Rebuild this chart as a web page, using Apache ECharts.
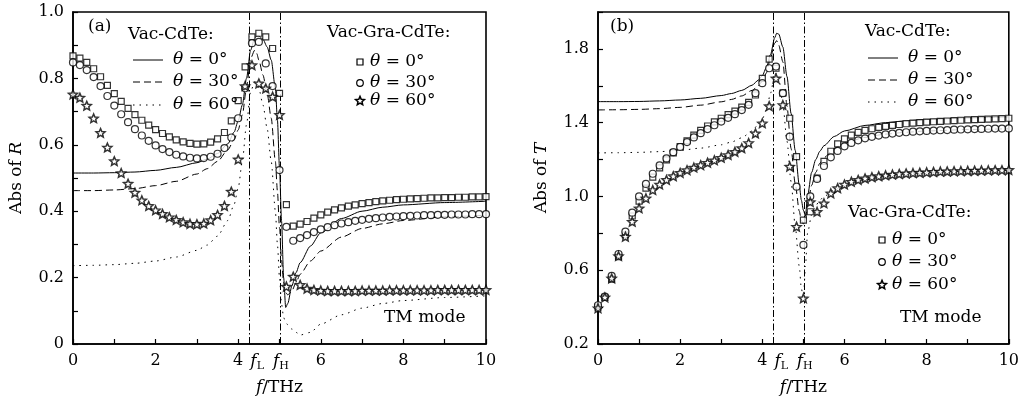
<!DOCTYPE html>
<html><head><meta charset="utf-8">
<script src="https://cdn.jsdelivr.net/npm/echarts@6/dist/echarts.min.js"></script>
<style>html,body{margin:0;padding:0;background:#fff}#c{width:1022px;height:403px}</style>
</head><body><div id="c"></div>
<script>
const FONT = 'DejaVu Serif';
const fL = 4.27, fH = 5.01;

// tick labels
const xLabels = ['0','2','4','6','8','10'];
const yLabelsA = ['0','0.2','0.4','0.6','0.8','1.0'];
const yLabelsB = ['0.2','0.6','1.0','1.4','1.8'];

// frequencies of the Vac-Gra-CdTe markers (THz)
const markerF = [0,0.167,0.333,0.5,0.667,0.833,1,1.167,1.333,1.5,
 1.667,1.833,2,2.167,2.333,2.5,2.667,2.833,3,3.167,
 3.333,3.5,3.667,3.833,4,4.167,4.333,4.5,4.667,4.833,
 5,5.167,5.333,5.5,5.667,5.833,6,6.167,6.333,6.5,
 6.667,6.833,7,7.167,7.333,7.5,7.667,7.833,8,8.167,
 8.333,8.5,8.667,8.833,9,9.167,9.333,9.5,9.667,9.833,
 10];

// (a) |R|, Vac-Gra-CdTe markers
const rSq0 = [0.868,0.861,0.848,0.829,0.805,0.779,0.754,0.731,0.710,0.691,
 0.674,0.659,0.646,0.634,0.624,0.615,0.609,0.604,0.602,0.603,
 0.608,0.618,0.637,0.672,0.733,0.835,0.925,0.936,0.925,0.890,
 0.755,0.420,0.355,0.361,0.369,0.379,0.389,0.397,0.404,0.410,
 0.415,0.419,0.423,0.426,0.429,0.431,0.433,0.435,0.436,0.437,
 0.438,0.439,0.440,0.440,0.441,0.441,0.442,0.442,0.443,0.443,
 0.444];
const rCi30 = [0.848,0.840,0.825,0.804,0.777,0.747,0.718,0.692,0.668,0.647,
 0.628,0.612,0.598,0.587,0.578,0.570,0.565,0.561,0.559,0.560,
 0.564,0.573,0.590,0.622,0.680,0.770,0.906,0.910,0.845,0.777,
 0.524,0.353,0.311,0.319,0.328,0.337,0.345,0.352,0.358,0.363,
 0.367,0.371,0.374,0.377,0.379,0.381,0.383,0.384,0.385,0.386,
 0.387,0.388,0.388,0.389,0.389,0.390,0.390,0.390,0.391,0.391,
 0.391];
const rSt60 = [0.752,0.742,0.718,0.680,0.636,0.592,0.551,0.515,0.483,0.456,
 0.433,0.416,0.403,0.392,0.382,0.374,0.367,0.362,0.361,0.363,
 0.373,0.389,0.416,0.459,0.556,0.777,0.840,0.785,0.770,0.745,
 0.690,0.173,0.203,0.178,0.167,0.163,0.161,0.160,0.160,0.160,
 0.160,0.160,0.161,0.161,0.161,0.161,0.162,0.162,0.162,0.162,
 0.162,0.162,0.162,0.163,0.163,0.163,0.163,0.163,0.163,0.163,
 0.163];

// (a) |R|, Vac-CdTe lines
const lineFA = [0,0.5,1,1.5,2,2.5,3, 3.25,3.5,3.75,3.9, 4.0,4.1,4.2,4.3,4.4,4.45,4.5, 4.6,4.7,4.8,4.9,4.95, 5.0,5.05,5.1,5.15,5.2, 5.3,5.4,5.5,5.75, 6,6.5,7,7.5,8,9,10];
const rLine0 = [0.515,0.515,0.516,0.518,0.523,0.532,0.546, 0.557,0.574,0.603,0.638, 0.672,0.72,0.80,0.885,0.922,0.928,0.928, 0.918,0.895,0.855,0.77,0.675, 0.53,0.37,0.20,0.11,0.122, 0.175,0.215,0.245,0.295, 0.335,0.378,0.400,0.412,0.419,0.426,0.430];
const rLine30 = [0.462,0.462,0.464,0.468,0.477,0.490,0.512, 0.528,0.550,0.585,0.615, 0.645,0.69,0.77,0.86,0.885,0.875,0.855, 0.81,0.755,0.68,0.55,0.46, 0.35,0.25,0.185,0.155,0.148, 0.16,0.185,0.21,0.25, 0.28,0.322,0.348,0.362,0.372,0.383,0.388];
const rLine60 = [0.236,0.237,0.239,0.243,0.250,0.262,0.282, 0.298,0.325,0.372,0.42, 0.47,0.55,0.66,0.76,0.79,0.785,0.77, 0.72,0.65,0.55,0.40,0.30, 0.20,0.12,0.08,0.065,0.058, 0.045,0.035,0.027,0.035, 0.06,0.088,0.108,0.122,0.131,0.14,0.145];

// (b) |T|, Vac-Gra-CdTe markers
const tSq0 = [0.400,0.453,0.552,0.673,0.791,0.894,0.975,1.045,1.105,1.155,
 1.198,1.236,1.270,1.302,1.332,1.358,1.382,1.404,1.424,1.444,
 1.463,1.484,1.510,1.550,1.640,1.744,1.695,1.560,1.424,1.216,
 0.872,0.917,1.100,1.190,1.245,1.285,1.312,1.332,1.347,1.358,
 1.367,1.374,1.380,1.385,1.390,1.394,1.397,1.400,1.403,1.405,
 1.407,1.409,1.411,1.413,1.415,1.416,1.418,1.419,1.421,1.422,
 1.424];
const tCi30 = [0.410,0.457,0.569,0.688,0.809,0.912,1.000,1.068,1.123,1.168,
 1.206,1.240,1.268,1.295,1.320,1.343,1.365,1.386,1.406,1.426,
 1.446,1.468,1.497,1.560,1.614,1.695,1.704,1.560,1.324,1.053,
 0.737,1.000,1.095,1.165,1.212,1.247,1.272,1.290,1.304,1.315,
 1.323,1.330,1.336,1.341,1.345,1.348,1.351,1.353,1.355,1.357,
 1.359,1.360,1.362,1.363,1.364,1.365,1.366,1.367,1.368,1.368,
 1.369];
const tSt60 = [0.394,0.453,0.556,0.677,0.782,0.863,0.936,0.990,1.035,1.065,
 1.090,1.110,1.128,1.143,1.157,1.170,1.183,1.196,1.210,1.225,
 1.242,1.262,1.290,1.342,1.397,1.490,1.640,1.496,1.162,0.836,
 0.448,0.970,0.917,0.963,1.017,1.045,1.065,1.080,1.090,1.098,
 1.105,1.110,1.115,1.119,1.122,1.125,1.127,1.129,1.131,1.133,
 1.135,1.136,1.137,1.138,1.139,1.140,1.141,1.142,1.143,1.143,
 1.144];

// (b) |T|, Vac-CdTe lines
const lineFB = [0,0.5,1,1.5,2,2.5,3, 3.25,3.5,3.75,3.9, 4.0,4.1,4.2,4.3,4.35,4.4,4.5, 4.6,4.7,4.8,4.9,4.95, 5.0,5.05,5.1,5.2,5.3, 5.4,5.5,5.75,6, 6.5,7,7.5,8,9,10];
const tLine0 = [1.514,1.514,1.515,1.518,1.523,1.532,1.547, 1.558,1.575,1.603,1.63, 1.655,1.70,1.77,1.86,1.885,1.88,1.81, 1.65,1.45,1.25,1.06,0.98, 0.925,0.895,1.0,1.13,1.2, 1.245,1.275,1.325,1.355, 1.385,1.400,1.410,1.417,1.426,1.432];
const tLine30 = [1.469,1.470,1.472,1.476,1.483,1.495,1.513, 1.526,1.545,1.575,1.60, 1.625,1.67,1.75,1.83,1.845,1.82,1.73, 1.49,1.26,1.07,0.92,0.87, 0.85,0.87,0.95,1.06,1.13, 1.18,1.21,1.26,1.29, 1.32,1.338,1.348,1.355,1.363,1.367];
const tLine60 = [1.236,1.237,1.239,1.243,1.250,1.262,1.280, 1.295,1.318,1.355,1.39, 1.42,1.47,1.56,1.66,1.67,1.64,1.50, 1.30,1.08,0.84,0.62,0.50, 0.45,0.62,0.80,0.90,0.95, 0.98,1.00,1.035,1.06, 1.09,1.108,1.12,1.128,1.138,1.143];

const STAR = 'path://M50,2 L62.9,32.2 L95.6,35.2 L70.9,56.8 L78.2,88.8 L50,72 L21.8,88.8 L29.1,56.8 L4.4,35.2 L37.1,32.2 Z';
const DASH = [7,4], DOT = [1.5,5], DASHDOT = [7,2.5,1.5,2.5];

const zip = (xs, ys) => xs.map((x, i) => [x, ys[i]]);

function lineSeries(g, xs, ys, type, withMarks) {
  const s = {type:'line', xAxisIndex:g, yAxisIndex:g, data:zip(xs, ys), symbol:'none',
    smooth:0.25, smoothMonotone:'x', lineStyle:{color:'#000', width:1, type}, z:2, silent:true};
  if (withMarks) {
    s.markLine = {silent:true, symbol:['none','none'], label:{show:false},
      lineStyle:{color:'#000', width:1, type:DASHDOT}, data:[{xAxis:fL},{xAxis:fH}]};
  }
  return s;
}
function markerSeries(g, ys, sym, size, bw) {
  return {type:'scatter', xAxisIndex:g, yAxisIndex:g, data:zip(markerF, ys), symbol:sym,
    symbolSize:size, symbolKeepAspect:true,
    itemStyle:{color:'#fff', borderColor:'#000', borderWidth:bw || 1.2}, z:5, silent:true};
}

const tickFont = {color:'#000', fontFamily:FONT, fontSize:16};
function xAxis(g) {
  return {gridIndex:g, type:'value', min:0, max:10, interval:1,
    axisLine:{show:true, onZero:false, lineStyle:{color:'#000', width:1.6}},
    axisTick:{inside:true, length:5, interval:0, lineStyle:{color:'#000', width:1.2}},
    axisLabel:Object.assign({interval:0, margin:9, formatter:(v, i) => i % 2 === 0 ? (xLabels[i/2] || '') : ''}, tickFont),
    splitLine:{show:false},
    name:'{i|f}{n|/THz}', nameLocation:'middle', nameGap:35,
    nameTextStyle:{rich:{i:{fontFamily:FONT, fontSize:17, fontStyle:'italic', color:'#000'}, n:{fontFamily:FONT, fontSize:17, color:'#000'}}}};
}
function yAxis(g, min, max, interval, labels, letter) {
  return {gridIndex:g, type:'value', min, max, interval,
    axisLine:{show:true, onZero:false, lineStyle:{color:'#000', width:1.6}},
    axisTick:{inside:true, length:5, interval:0, lineStyle:{color:'#000', width:1.2}},
    axisLabel:Object.assign({interval:0, margin:9, formatter:(v, i) => i % 2 === 0 ? (labels[i/2] || '') : ''}, tickFont),
    splitLine:{show:false},
    name:'{n|Abs of }{i|' + letter + '}', nameLocation:'middle', nameGap:48,
    nameTextStyle:{rich:{i:{fontFamily:FONT, fontSize:17, fontStyle:'italic', color:'#000'}, n:{fontFamily:FONT, fontSize:17, color:'#000'}}}};
}

const RICH = {
  i:{fontFamily:FONT, fontSize:17, fontStyle:'italic', fill:'#000'},
  n:{fontFamily:FONT, fontSize:17, fill:'#000'}
};
function txt(id, x, y, text, size) {
  return {type:'text', id, x, y, silent:true, z:10,
    style:{text, fontFamily:FONT, fontSize:size || 17, fill:'#000', align:'left', verticalAlign:'middle', rich:RICH}};
}
function legLine(id, x, y, dash) {
  return {type:'line', id, silent:true, z:10, shape:{x1:x, y1:y, x2:x+30, y2:y},
    style:{stroke:'#000', lineWidth:1, lineDash:dash}};
}
function legSym(id, kind, cx, cy) {
  const st = {fill:'#fff', stroke:'#000', lineWidth:1.2};
  if (kind === 'sq') return {type:'rect', id, silent:true, z:10, shape:{x:cx-3, y:cy-3, width:6, height:6}, style:st};
  if (kind === 'ci') return {type:'circle', id, silent:true, z:10, shape:{cx, cy, r:3.3}, style:st};
  const pts = [];
  for (let k = 0; k < 10; k++) {
    const r = k % 2 === 0 ? 4.6 : 2.1, a = -Math.PI/2 + k*Math.PI/5;
    pts.push([cx + r*Math.cos(a), cy + r*Math.sin(a)]);
  }
  return {type:'polygon', id, silent:true, z:10, shape:{points:pts}, style:Object.assign({}, st, {lineWidth:1.5})};
}
const TH = ['{i|θ}{n| = 0°}', '{i|θ}{n| = 30°}', '{i|θ}{n| = 60°}'];

function legends(p, o) {
  const g = [];
  g.push(txt(p+'lab', o.lab[0], o.lab[1], p === 'a' ? '(a)' : '(b)', 17));
  g.push(txt(p+'t1', o.t1[0], o.t1[1], 'Vac-CdTe:'));
  [0,1,2].forEach(k => {
    g.push(legLine(p+'l'+k, o.lx, o.ly[k], [null, DASH, DOT][k]));
    g.push(txt(p+'lt'+k, o.lx + 40, o.ly[k], TH[k]));
  });
  g.push(txt(p+'t2', o.t2[0], o.t2[1], 'Vac-Gra-CdTe:'));
  ['sq','ci','st'].forEach((kd, k) => {
    g.push(legSym(p+'m'+k, kd, o.mx, o.my[k]));
    g.push(txt(p+'mt'+k, o.mx + 10, o.my[k], TH[k]));
  });
  g.push(txt(p+'tm', o.tm[0], o.tm[1], 'TM mode'));
  return g;
}

const chart = echarts.init(document.getElementById('c'));
chart.setOption({
  animation:false,
  backgroundColor:'#fff',
  grid:[
    {left:73, top:12, width:413, height:332, show:true, borderColor:'#000', borderWidth:1.6, backgroundColor:'transparent'},
    {left:598, top:12, width:412, height:332, show:true, borderColor:'#000', borderWidth:1.6, backgroundColor:'transparent'}
  ],
  xAxis:[xAxis(0), xAxis(1)],
  yAxis:[yAxis(0, 0, 1, 0.1, yLabelsA, 'R'), yAxis(1, 0.2, 2.0, 0.2, yLabelsB, 'T')],
  series:[
    lineSeries(0, lineFA, rLine0, 'solid', true),
    lineSeries(0, lineFA, rLine30, DASH),
    lineSeries(0, lineFA, rLine60, DOT),
    markerSeries(0, rSq0, 'rect', 6),
    markerSeries(0, rCi30, 'circle', 7),
    markerSeries(0, rSt60, STAR, 9, 1.5),
    lineSeries(1, lineFB, tLine0, 'solid', true),
    lineSeries(1, lineFB, tLine30, DASH),
    lineSeries(1, lineFB, tLine60, DOT),
    markerSeries(1, tSq0, 'rect', 6),
    markerSeries(1, tCi30, 'circle', 7),
    markerSeries(1, tSt60, STAR, 9, 1.5)
  ]
});

// annotations: f_L / f_H labels placed through the axis scale
const gfx = [];
[0,1].forEach(g => {
  const y0 = chart.convertToPixel({yAxisIndex:g}, g === 0 ? 0 : 0.2) + 18;
  const xl = chart.convertToPixel({xAxisIndex:g}, fL);
  const xh = chart.convertToPixel({xAxisIndex:g}, fH);
  const rich = {
    i:{fontFamily:FONT, fontSize:17, fontStyle:'italic', fill:'#000', lineHeight:20},
    s:{fontFamily:FONT, fontSize:11, fill:'#000', lineHeight:11, verticalAlign:'bottom'}
  };
  gfx.push({type:'text', id:'fl'+g, x:xl+1, y:y0, silent:true, style:{text:'{i|f}{s|L}', rich, align:'left', verticalAlign:'middle'}});
  gfx.push({type:'text', id:'fh'+g, x:xh-7, y:y0, silent:true, style:{text:'{i|f}{s|H}', rich, align:'left', verticalAlign:'middle'}});
});
gfx.push(...legends('a', {lab:[88,27], t1:[128,35], lx:133, ly:[60,82,105], t2:[327,33], mx:360, my:[62,83,101], tm:[384,318]}));
gfx.push(...legends('b', {lab:[610,27], t1:[865,32], lx:868, ly:[58,80,102], t2:[848,213], mx:882, my:[240,262,285], tm:[900,318]}));
chart.setOption({graphic:gfx});
</script>
</body></html>
